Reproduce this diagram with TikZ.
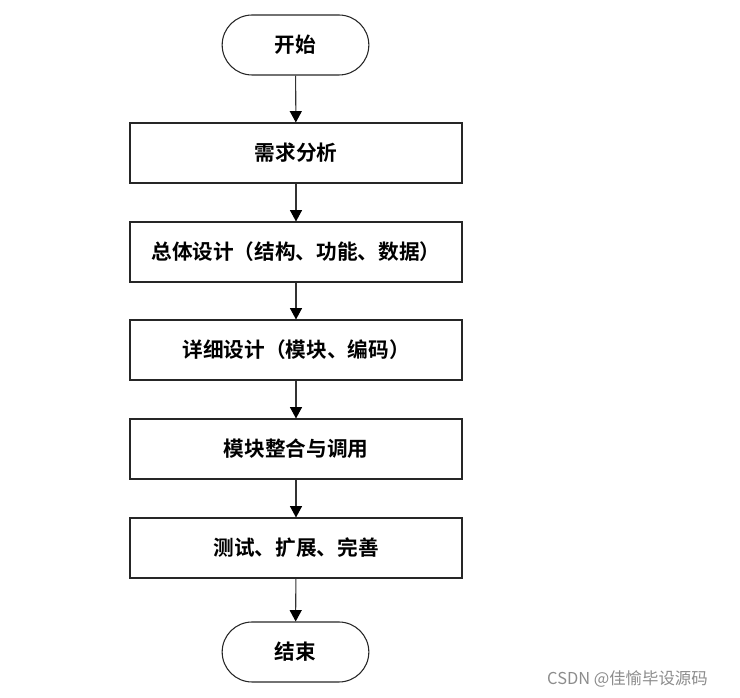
\documentclass[tikz,border=0pt]{standalone}
\usepackage{fontspec}
\newfontfamily\cjk{Noto Sans CJK SC}[BoldFont={Noto Sans CJK SC Bold}]
\usetikzlibrary{arrows.meta,shapes.misc}
\begin{document}
\begin{tikzpicture}[x=0.75pt,y=-0.75pt,
  lbl/.style={font=\cjk\bfseries\fontsize{15.5}{18}\selectfont},
  stepbox/.style={lbl,draw=black!85,line width=0.8pt,minimum width=249pt,minimum height=45pt,inner sep=0pt},
  termbox/.style={lbl,draw=black!85,line width=0.8pt,rounded rectangle,minimum width=110pt,minimum height=45pt,inner sep=0pt},
  flow/.style={draw=black!80,line width=0.8pt,-{Triangle[length=8.5pt,width=9pt,color=black]}}]
\useasboundingbox (0,0) rectangle (740,698);
\node[termbox] (start) at (295.5,45) {开始};
\node[stepbox] (s1) at (296,153) {需求分析};
\node[stepbox] (s2) at (296,252) {总体设计（结构、功能、数据）};
\node[stepbox] (s3) at (296,350) {详细设计（模块、编码）};
\node[stepbox] (s4) at (296,449) {模块整合与调用};
\node[stepbox] (s5) at (296,548) {测试、扩展、完善};
\node[termbox] (end) at (295.5,652) {结束};
\draw[flow] (start) -- (s1);
\draw[flow] (s1) -- (s2);
\draw[flow] (s2) -- (s3);
\draw[flow] (s3) -- (s4);
\draw[flow] (s4) -- (s5);
\draw[flow] (s5) -- (end);
\node[font=\cjk\fontsize{12.3}{14}\selectfont,text=black!45,anchor=east,inner sep=0pt] (wm) at (708,679) {CSDN @佳愉毕设源码};
\end{tikzpicture}
\end{document}
